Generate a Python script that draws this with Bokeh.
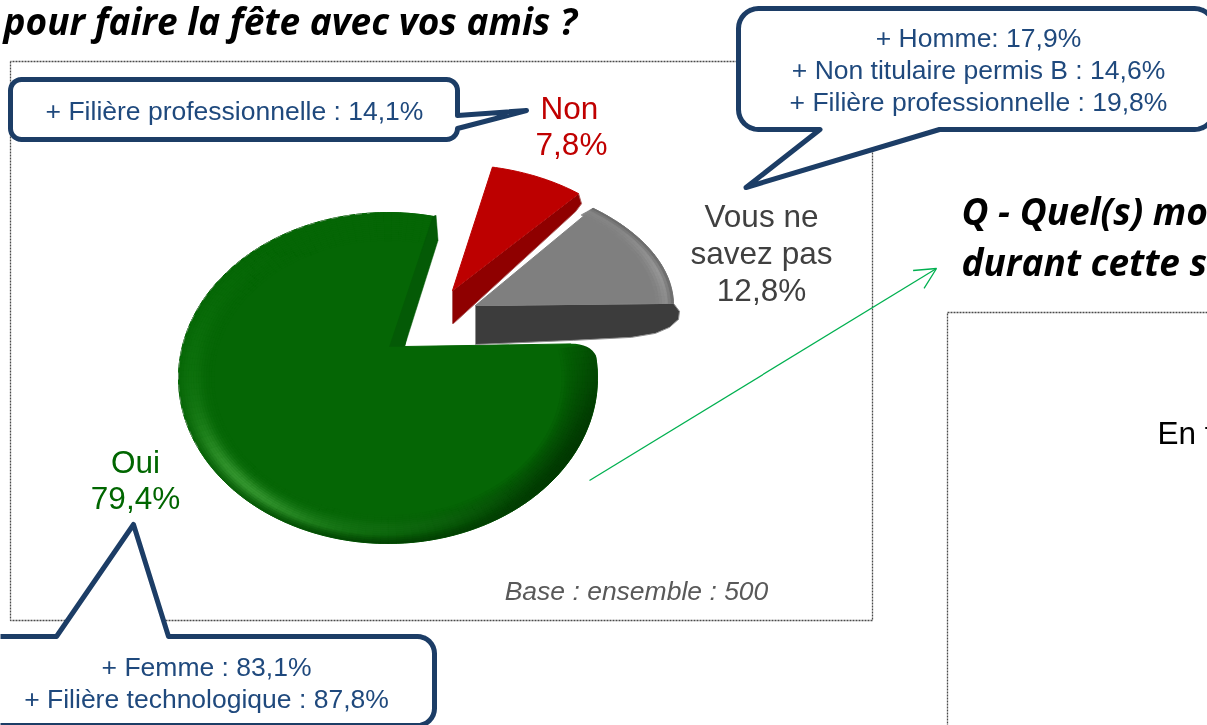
import math
from bokeh.plotting import figure
from bokeh.models import Range1d, Arrow, OpenHead
from bokeh.core.properties import value
from bokeh.embed import file_html
from bokeh.resources import INLINE

# ---------- data ----------
categories = ["Oui", "Non", "Vous ne savez pas"]
shares = [79.4, 7.8, 12.8]
share_labels = ["79,4%", "7,8%", "12,8%"]
base_note = "Base : ensemble : 500"
callout_non = ["+ Filière professionnelle : 14,1%"]
callout_nsp = ["+ Homme: 17,9%", "+ Non titulaire permis B : 14,6%", "+ Filière professionnelle : 19,8%"]
callout_oui = ["+ Femme : 83,1%", "+ Filière technologique : 87,8%"]
title_left = "pour faire la fête avec vos amis ?"
title_right = ["Q - Quel(s) mo", "durant cette se"]
cut_labels = ["En t", "A 2 roues moto"]

# ---------- layout ----------
W, H = 1207, 725
NAVY = "#1c3d66"
CALL_TXT = "#1f497d"
p = figure(width=W, height=H, x_range=Range1d(0, W), y_range=Range1d(H, 0),
           output_backend="svg", toolbar_location=None,
           min_border=0, outline_line_color=None,
           styles={"position": "fixed", "left": "0px", "top": "0px"})
p.axis.visible = False
p.grid.visible = False
p.background_fill_color = "white"


def txt(x, y, s, size, color, font="Liberation Sans", style="normal", align="center", base="middle"):
    p.text([x], [y], text=[s], text_font=value(font), text_font_size=f"{size}px", text_color=color,
           text_font_style=style, text_align=align, text_baseline=base)


def arc(c, rx, ry, start, sweep, n=80, f=1.0):
    pts = [math.radians(start - sweep * i / n) for i in range(n + 1)]
    return [c[0] + f * rx * math.cos(t) for t in pts], [c[1] - f * ry * math.sin(t) for t in pts]


def mix(a, b, k):
    k = max(0.0, min(1.0, k))
    return tuple(a[i] + (b[i] - a[i]) * k for i in range(3))


def hexc(c):
    return "#%02x%02x%02x" % tuple(int(round(v)) for v in c)


def rim(c, rx, ry, start, sweep, colorfn, width, rings=8, n=110):
    xs, ys, cols = [], [], []
    for r in range(rings):
        s0, s1 = r / rings, (r + 1) / rings
        f0, f1 = 1 - width * s0, 1 - width * s1
        for i in range(n):
            t0 = start - sweep * i / n
            t1 = start - sweep * (i + 1) / n
            a = [math.radians(t0), math.radians(t1)]
            xs.append([c[0] + f0 * rx * math.cos(a[0]), c[0] + f0 * rx * math.cos(a[1]),
                       c[0] + f1 * rx * math.cos(a[1]), c[0] + f1 * rx * math.cos(a[0])])
            ys.append([c[1] - f0 * ry * math.sin(a[0]), c[1] - f0 * ry * math.sin(a[1]),
                       c[1] - f1 * ry * math.sin(a[1]), c[1] - f1 * ry * math.sin(a[0])])
            cols.append(hexc(colorfn(((t0 + t1) / 2) % 360, (s0 + s1) / 2)))
    p.patches(xs, ys, fill_color=cols, line_color=cols, line_width=0.6)


def rounded(x0, y0, x1, y1, r, tail_edge, tail):
    """Rounded box outline with a tail inserted on one edge."""
    def corner(cx, cy, a0):
        return [(cx + r * math.cos(math.radians(a0 + 90 * i / 8)), cy + r * math.sin(math.radians(a0 + 90 * i / 8))) for i in range(9)]
    pts = []
    pts += corner(x0 + r, y0 + r, 180)
    if tail_edge == "top":
        pts += tail
    pts += corner(x1 - r, y0 + r, 270)
    if tail_edge == "right":
        pts += tail
    pts += corner(x1 - r, y1 - r, 0)
    if tail_edge == "bottom":
        pts += tail
    pts += corner(x0 + r, y1 - r, 90)
    return [q[0] for q in pts] + [pts[0][0]], [q[1] for q in pts] + [pts[0][1]]


def callout(pts):
    p.patch(pts[0], pts[1], fill_color="white", line_color=NAVY, line_width=5, line_join="round")


# ---------- frames ----------
FRAME = "#4a4a4a"
p.line([10, 10, 872, 872, 10], [61, 620, 620, 61, 61], line_color=FRAME, line_width=1.3, line_dash="2 1")
p.line([1207, 947, 947], [312, 312, 725], line_color=FRAME, line_width=1.3, line_dash="2 1")

# ---------- pie: slice sweeps come from the shares ----------
# Oui
c_g, rx_g, ry_g = (387.5, 377.5), 209.5, 165.5
apex_g = (404, 346)
start_g = 12
sw_g = shares[0] * 3.6 * 1.03
ax, ay = arc(c_g, rx_g, ry_g, start_g, sw_g, n=160)
p.patch([apex_g[0]] + ax, [apex_g[1]] + ay, fill_color="#056605", line_color="#056605", line_width=1)
BASE_G, HI_G, DK_G = (5, 102, 5), (58, 155, 52), (1, 48, 1)


def col_g(t, s):
    tt = t if t > 100 else t + 360
    light = math.exp(-((t - 222) / 34) ** 2)
    bright = light * math.exp(-((s - 0.38) / 0.26) ** 2)
    col = mix(BASE_G, HI_G, bright)
    left = math.exp(-((t - 175) / 32) ** 2) * math.exp(-((s - 0.35) / 0.3) ** 2)
    col = mix(col, (12, 112, 12), left * 0.7)
    bot = math.exp(-((t - 275) / 40) ** 2) * math.exp(-((s - 0.55) / 0.25) ** 2)
    col = mix(col, (20, 116, 20), bot * 0.7)
    dark = math.exp(-((tt - 328) / 46) ** 2) * max(0, 1 - s) ** 0.7
    col = mix(col, DK_G, dark)
    outer = math.exp(-((tt - 285) / 60) ** 2) * max(0, 1 - s * 3.0)
    col = mix(col, (3, 62, 3), outer)
    return col


rim(c_g, rx_g, ry_g, start_g, sw_g, col_g, 0.17, rings=14, n=130)
# notch wall of the green slice
p.patch([ax[-1], ax[-1] + 3, ax[-1] + 5, apex_g[0], apex_g[0] - 15], [ay[-1], ay[-1] - 1, ay[-1] + 24, apex_g[1], apex_g[1]],
        fill_color="#045a06", line_color="#045a06", line_width=0.5)
lx, ly = arc(c_g, rx_g, ry_g, 205, 110, n=60)
p.line(lx, ly, line_color="#7f9f7f", line_width=1, line_dash="7 5", line_alpha=0.8)
# rounded shoulder of the slice's right corner
sx, sy = ax[0], ay[0]
curve = [i / 10 for i in range(11)]
mx = [(1 - u) ** 2 * (sx - 22) + 2 * u * (1 - u) * (sx + 2) + u * u * (sx + 6) for u in curve]
my = [(1 - u) ** 2 * sy + 2 * u * (1 - u) * sy + u * u * (sy + 20) for u in curve]
p.patch(mx + [sx + 12, sx + 12, sx - 22], my + [sy + 20, sy - 3, sy - 3],
        fill_color="white", line_color=None)

# Vous ne savez pas
c_n, rx_n, ry_n = (420, 305), 253, 133
apex_n = (475, 305)
sw_n = shares[2] * 3.6
nx, ny = arc(c_n, rx_n, ry_n, 47, sw_n, n=50)
ex, ey = nx[-1], ny[-1]
p.patch([apex_n[0], ex, ex + 6, ex + 5, ex - 4, ex - 18, ex - 42, ex - 100, apex_n[0]],
        [apex_n[1], ey, ey + 8, ey + 16, ey + 24, ey + 30, ey + 34, ey + 37, apex_n[1] + 39],
        fill_color="#3c3c3c", line_color="#8f8f8f", line_width=1)
p.patch([apex_n[0]] + nx, [apex_n[1]] + ny, fill_color="#7f7f7f", line_color="#808080", line_width=1)


def col_n(t, s):
    k = math.exp(-((s - 0.4) / 0.4) ** 2)
    col = mix((127, 127, 127), (150, 150, 150), k * max(0.25, 1 - abs(t - 15) / 30))
    return mix(col, (96, 96, 96), max(0, 1 - s * 2.4) * 0.8)


rim(c_n, rx_n, ry_n, 47, sw_n, col_n, 0.07, rings=6, n=30)

# Non
c_r, rx_r, ry_r = (452, 290), 197, 126
sw_r = shares[1] * 3.6
rx_, ry_ = arc(c_r, rx_r, ry_r, 78.3, sw_r, n=30)
p.patch([c_r[0], rx_[-1], rx_[-1] + 3, rx_[-1] - 3, c_r[0] + 1, c_r[0]],
        [c_r[1], ry_[-1], ry_[-1] + 10, ry_[-1] + 18, c_r[1] + 33, c_r[1] + 33],
        fill_color="#8f0000", line_color="#b06060", line_width=1)
p.patch([c_r[0]] + rx_, [c_r[1]] + ry_, fill_color="#bd0000", line_color="#bd0000", line_width=1)

# ---------- callouts ----------
callout(rounded(10, 79, 457, 139, 11, "right", [(457, 115), (526, 110), (457, 128)]))
callout(rounded(738, 8, 1214, 129, 20, "bottom", [(939, 129), (745.5, 187), (819.5, 129)]))
callout(rounded(-30, 636, 434, 725, 17, "top", [(56, 636), (133, 524), (168, 636)]))

# ---------- connector ----------
p.add_layout(Arrow(end=OpenHead(size=21, line_color="#00b050", line_width=1.3),
                   x_start=589, y_start=480, x_end=936, y_end=268,
                   line_color="#00b050", line_width=1.3))

# ---------- texts ----------
TF = "Open Sans"
txt(3, 20, title_left, 37, "black", font=TF, style="bold italic", align="left")
txt(961, 210, title_right[0], 37, "black", font=TF, style="bold italic", align="left")
txt(961, 261, title_right[1], 37, "black", font=TF, style="bold italic", align="left")

CS = 26.5
txt(234, 110, callout_non[0], CS, CALL_TXT)
for i, s in enumerate(callout_nsp):
    txt(978, 37 + i * 32, s, CS, CALL_TXT)
for i, s in enumerate(callout_oui):
    txt(206, 666 + i * 32, s, CS, CALL_TXT)

LS = 31.5
txt(569, 107, categories[1], LS, "#c00000")
txt(571, 143, share_labels[1], LS, "#c00000")
txt(761, 215, "Vous ne", LS, "#404040")
txt(761, 252, "savez pas", LS, "#404040")
txt(761, 289, share_labels[2], LS, "#404040")
txt(135, 461, categories[0], LS, "#006600")
txt(135, 497, share_labels[0], LS, "#006600")
txt(636, 590, base_note, 26.5, "#595959", style="italic")
txt(1157, 432, cut_labels[0], LS, "black", align="left")
txt(998, 738, cut_labels[1], LS, "black", align="left")

open("out.html", "w").write(file_html(p, INLINE))
